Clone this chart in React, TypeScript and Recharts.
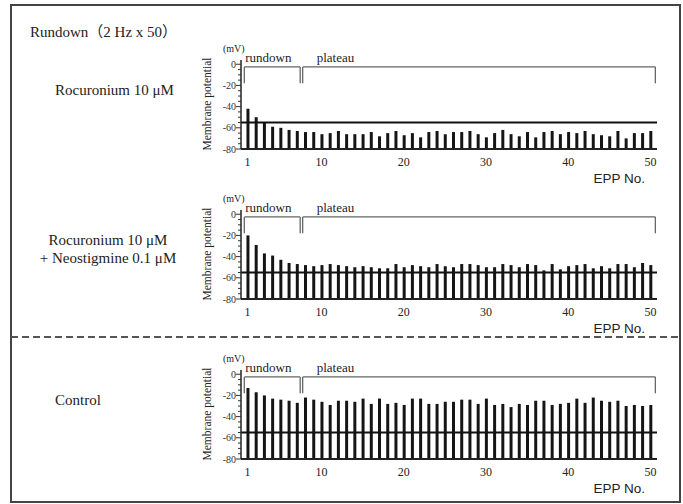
import { BarChart, Bar, XAxis, YAxis, ReferenceLine } from "recharts";

const SERIF = '"Liberation Serif", "Times New Roman", "Noto Sans CJK SC", serif';
const SANS = '"Liberation Sans", Arial, sans-serif';

// EPP number (1..50)
const EPP = [
    1, 2, 3, 4, 5, 6, 7, 8, 9, 10,
    11, 12, 13, 14, 15, 16, 17, 18, 19, 20,
    21, 22, 23, 24, 25, 26, 27, 28, 29, 30,
    31, 32, 33, 34, 35, 36, 37, 38, 39, 40,
    41, 42, 43, 44, 45, 46, 47, 48, 49, 50,
];

// peak membrane potential (mV) per EPP
const ROCURONIUM = [
    -42, -50, -55, -59, -60, -62, -63, -64, -64, -66,
    -65, -63, -66, -66, -66, -64, -68, -65, -63, -67,
    -65, -69, -64, -63, -66, -64, -64, -63, -66, -69,
    -65, -62, -66, -68, -64, -69, -64, -63, -66, -64,
    -65, -63, -66, -67, -68, -63, -70, -65, -65, -63,
];

const ROCURONIUM_NEO = [
    -20, -29, -37, -39, -43, -46, -47, -48, -49, -48,
    -47, -48, -49, -50, -49, -50, -51, -51, -47, -50,
    -48, -49, -50, -47, -49, -50, -47, -47, -48, -50,
    -50, -47, -48, -50, -47, -48, -53, -47, -52, -49,
    -48, -47, -51, -49, -51, -47, -47, -50, -46, -48,
];

const CONTROL = [
    -13, -17, -20, -23, -24, -25, -27, -22, -24, -26,
    -29, -25, -25, -26, -23, -28, -23, -28, -27, -29,
    -23, -23, -28, -28, -26, -26, -24, -24, -28, -23,
    -29, -28, -31, -28, -29, -25, -25, -29, -28, -27,
    -23, -27, -22, -25, -26, -25, -30, -29, -30, -29,
];

const X_TICKS = [1, 10, 20, 30, 40, 50];
const Y_TICKS = [
    -80, -75, -70, -65, -60, -55, -50, -45, -40,
    -35, -30, -25, -20, -15, -10, -5, 0,
];
const THRESHOLD = -55;
const BASELINE = -80;

// bracket spans in EPP units and their vertical extent (mV)
const RUNDOWN = [0.6, 7.4];
const PLATEAU = [7.7, 50.6];
const BRACKET_Y = [-2.5, -18];

const MvTick = (props: any) => {
    const { x, y, payload } = props;
    const major = payload.value % 20 === 0;
    return (
        <g>
            <line
                x1={x - (major ? 5 : 3)}
                x2={x}
                y1={y}
                y2={y}
                stroke="#333"
                strokeWidth={1}
            />
            {major && (
                <text
                    x={x - 5}
                    y={y}
                    dy={3.5}
                    textAnchor="end"
                    fontSize={10}
                    fill="#333"
                >
                    {payload.value}
                </text>
            )}
        </g>
    );
};

const bracket = (span: number[], name: string, dx: number) => {
    const [left, right] = span;
    const [top, bottom] = BRACKET_Y;
    const style = { stroke: "#666", strokeWidth: 1.3 };
    return [
        <ReferenceLine
            key={name + "l"}
            segment={[{ x: left, y: bottom }, { x: left, y: top }]}
            {...style}
        />,
        <ReferenceLine
            key={name + "t"}
            segment={[{ x: left, y: top }, { x: right, y: top }]}
            {...style}
            label={{
                content: (p: any) => (
                    <text
                        x={p.viewBox.x + dx}
                        y={p.viewBox.y - 4.5}
                        fontSize={13}
                        fill="#222"
                    >
                        {name}
                    </text>
                ),
            }}
        />,
        <ReferenceLine
            key={name + "r"}
            segment={[{ x: right, y: top }, { x: right, y: bottom }]}
            {...style}
        />,
    ];
};

const Panel = ({ values, zeroY }: { values: number[]; zeroY: number }) => {
    const data = EPP.map((n, i) => ({ n, v: values[i] }));
    return (
        <div style={{ position: "absolute", left: 190, top: zeroY - 24, width: 480, height: 150 }}>
            <BarChart
                width={480}
                height={150}
                data={data}
                margin={{ top: 20, right: 13, bottom: 0, left: 0 }}
            >
                <XAxis
                    dataKey="n"
                    type="number"
                    domain={[0.2, 50.8]}
                    ticks={X_TICKS}
                    interval={0}
                    height={41}
                    tickLine={false}
                    tickSize={4}
                    tickMargin={4}
                    axisLine={{ stroke: "#222", strokeWidth: 2 }}
                    tick={{ fontSize: 12, fill: "#222" }}
                />
                <YAxis
                    type="number"
                    domain={[BASELINE, 4]}
                    ticks={Y_TICKS}
                    interval={0}
                    width={51}
                    tickLine={false}
                    tickSize={0}
                    tickMargin={0}
                    axisLine={{ stroke: "#222", strokeWidth: 1.5 }}
                    tick={<MvTick />}
                />
                <Bar
                    dataKey={(d: any) => [BASELINE, d.v]}
                    fill="#151515"
                    barSize={3}
                    isAnimationActive={false}
                />
                <ReferenceLine y={THRESHOLD} stroke="#111" strokeWidth={2} />
                {bracket(RUNDOWN, "rundown", 1)}
                {bracket(PLATEAU, "plateau", 14)}
            </BarChart>
            <div style={{ position: "absolute", left: 33, top: 9, fontSize: 10, lineHeight: 1, transform: "translateY(-50%)" }}>
                (mV)
            </div>
            <div
                style={{
                    position: "absolute",
                    left: 18,
                    top: 64,
                    fontSize: 11.5,
                    lineHeight: 1,
                    whiteSpace: "nowrap",
                    transform: "translate(-50%, -50%) rotate(-90deg)",
                }}
            >
                Membrane potential
            </div>
            <div
                style={{
                    position: "absolute",
                    right: 25,
                    top: 139,
                    fontSize: 13.5,
                    lineHeight: 1,
                    fontFamily: SANS,
                    whiteSpace: "nowrap",
                    transform: "translateY(-50%)",
                }}
            >
                EPP No.
            </div>
        </div>
    );
};

const label = (text: string, left: number, top: number) => (
    <div
        style={{
            position: "absolute",
            left,
            top,
            fontSize: 15,
            lineHeight: 1,
            whiteSpace: "nowrap",
            transform: "translateY(-50%)",
        }}
    >
        {text}
    </div>
);

export default function App() {
    return (
        <div
            style={{
                position: "absolute",
                left: 0,
                top: 0,
                width: 683,
                height: 504,
                background: "#fff",
                fontFamily: SERIF,
                color: "#222",
                overflow: "hidden",
            }}
        >
            <div
                style={{
                    position: "absolute",
                    left: 10,
                    top: 4,
                    width: 671,
                    height: 499,
                    border: "2px solid #444",
                    boxSizing: "border-box",
                }}
            />
            <svg style={{ position: "absolute", left: 0, top: 0 }} width={683} height={504}>
                <line x1={11} x2={680} y1={337} y2={337} stroke="#555" strokeWidth={2} strokeDasharray="7 4" />
            </svg>

            {label("Rundown（2 Hz x 50）", 30, 32)}
            {label("Rocuronium 10 μM", 55, 90)}
            <div
                style={{
                    position: "absolute",
                    left: 108,
                    top: 231,
                    fontSize: 15,
                    lineHeight: "18.3px",
                    whiteSpace: "nowrap",
                    textAlign: "center",
                    transform: "translateX(-50%)",
                }}
            >
                Rocuronium 10 μM
                <br />+ Neostigmine 0.1 μM
            </div>
            {label("Control", 55, 400)}

            <Panel values={ROCURONIUM} zeroY={64} />
            <Panel values={ROCURONIUM_NEO} zeroY={214} />
            <Panel values={CONTROL} zeroY={374} />
        </div>
    );
}
